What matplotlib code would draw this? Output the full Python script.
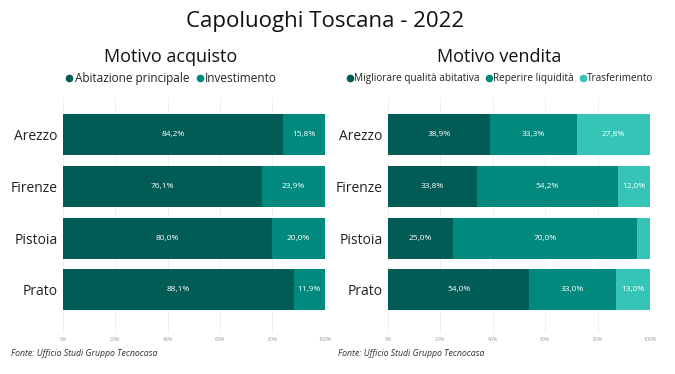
import matplotlib.pyplot as plt
from matplotlib.lines import Line2D
import numpy as np

plt.rcParams["font.family"] = ["Open Sans", "DejaVu Sans"]

cities = ["Arezzo", "Firenze", "Pistoia", "Prato"]

# Motivo acquisto
acq_labels = ["Abitazione principale", "Investimento"]
acq_abitazione = [84.2, 76.1, 80.0, 88.1]
acq_investimento = [15.8, 23.9, 20.0, 11.9]

# Motivo vendita
ven_labels = ["Migliorare qualità abitativa", "Reperire liquidità", "Trasferimento"]
ven_migliorare = [38.9, 33.8, 25.0, 54.0]
ven_liquidita = [33.3, 54.2, 70.0, 33.0]
ven_trasferimento = [27.8, 12.0, 5.0, 13.0]

ticks = [0, 20, 40, 60, 80, 100]
colors = ["#005c55", "#00897c", "#36c4b7"]


def _fmt(v):
    return f"{v:.1f}%".replace(".", ",")


def draw_panel(ax, series, labels, legend_x, title_x, title, legend_size):
    y = np.arange(len(cities))
    left = np.zeros(len(cities))
    for vals, col in zip(series, colors):
        vals = np.array(vals)
        ax.barh(y, vals, left=left, height=0.79, color=col, zorder=2)
        for yi, (l, v) in enumerate(zip(left, vals)):
            if v >= 10:
                ax.text(l + v / 2, yi, _fmt(v), ha="center", va="center",
                        color="white", fontsize=6, zorder=3)
        left = left + vals

    ax.set_xlim(0, 100)
    ax.set_ylim(3.83, -0.72)
    ax.set_yticks(y)
    ax.set_yticklabels(cities, fontsize=10, color="#222222")
    ax.set_xticks(ticks)
    ax.set_xticklabels([f"{t}%" for t in ticks], fontsize=3.8, color="#999999")
    ax.tick_params(length=0, pad=4)
    ax.tick_params(axis="x", pad=3)
    ax.grid(axis="x", color="#eeeeee", linewidth=0.6, zorder=0)
    for s in ax.spines.values():
        s.set_visible(False)

    fig.text(title_x, 0.847, title, ha="center", va="center", fontsize=13, color="#111111")
    handles = [Line2D([], [], marker="o", linestyle="", color=c, markersize=4.5)
               for c in colors[:len(labels)]]
    fig.legend(handles, labels, loc="center", bbox_to_anchor=(legend_x, 0.79),
               ncol=len(labels), frameon=False, fontsize=legend_size,
               handletextpad=0.05, columnspacing=0.5, handlelength=0.8,
               labelcolor="#222222")


fig = plt.figure(figsize=(6.75, 3.74), dpi=100)
ax1 = fig.add_axes([0.0933, 0.1096, 0.388, 0.631])
ax2 = fig.add_axes([0.5748, 0.1096, 0.388, 0.631])

draw_panel(ax1, [acq_abitazione, acq_investimento], acq_labels, 0.253, 0.253,
           "Motivo acquisto", 8.5)
draw_panel(ax2, [ven_migliorare, ven_liquidita, ven_trasferimento], ven_labels, 0.74, 0.74,
           "Motivo vendita", 7.2)

fig.text(0.482, 0.942, "Capoluoghi Toscana - 2022", ha="center", va="center", fontsize=16, color="#111111")
fig.text(0.017, 0.048, "Fonte: Ufficio Studi Gruppo Tecnocasa", fontsize=6.3, style="italic", color="#333333")
fig.text(0.5, 0.048, "Fonte: Ufficio Studi Gruppo Tecnocasa", fontsize=6.3, style="italic", color="#333333")

fig.savefig("out.png", dpi=100)
